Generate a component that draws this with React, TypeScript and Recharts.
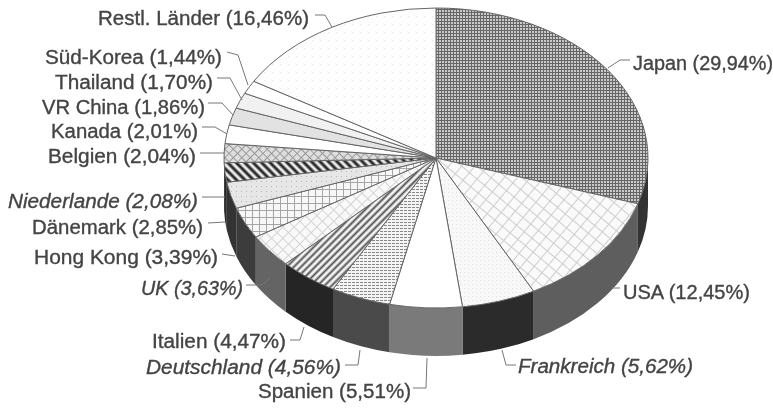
import React from "react";
import { PieChart, Pie } from "recharts";

const COUNTRIES = ["Japan", "USA", "Frankreich", "Spanien", "Deutschland", "Italien", "UK", "Hong Kong", "Dänemark", "Niederlande", "Belgien", "Kanada", "VR China", "Thailand", "Süd-Korea", "Restl. Länder"];
const SHARES = [29.94, 12.45, 5.62, 5.51, 4.56, 4.47, 3.63, 3.39, 2.85, 2.08, 2.04, 2.01, 1.86, 1.70, 1.44, 16.46];
const ITALIC = ["UK", "Niederlande", "Deutschland", "Frankreich"];

// top face fill and side wall colour, slice by slice
const TOP_FILLS = ["url(#grid)", "url(#cross)", "url(#dots)", "#fff", "url(#hlines)", "url(#diag)", "url(#lightcross)", "url(#lightgrid)", "url(#greydots)", "url(#bold)", "url(#greycross)", "#fff", "#e2e2e2", "#f1f1f1", "#fff", "url(#sparse)"];
const WALLS = ["#333", "#5e5e5e", "#2b2b2b", "#7a7a7a", "#4a4a4a", "#252525", "#646464", "#3c3c3c", "#333", "#2a2a2a", "#333", "#333", "#333", "#333", "#333", "#333"];

// label placement: text left, baseline, text width, then the leader line
const LABELS: { x: number; y: number; w: number; leader: string }[] = [
    { x: 633, y: 70, w: 140, leader: "630,60 620,60 608,68" },
    { x: 623, y: 299, w: 127, leader: "620,288 612,288" },
    { x: 518, y: 373, w: 175, leader: "516,365 506,365 502,350" },
    { x: 258, y: 398, w: 153, leader: "413,388 426,388 427,358" },
    { x: 146, y: 374, w: 195, leader: "345,365 358,365 360,350" },
    { x: 152, y: 348, w: 134, leader: "290,340 300,340 304,327" },
    { x: 141, y: 295, w: 102, leader: "246,285 262,285 270,278" },
    { x: 34, y: 264, w: 184, leader: "222,254 235,256" },
    { x: 32, y: 234, w: 171, leader: "208,223 225,222" },
    { x: 8, y: 208, w: 190, leader: "202,197 225,197" },
    { x: 48, y: 163, w: 148, leader: "200,153 225,153" },
    { x: 51, y: 138, w: 147, leader: "202,127 215,127 227,134" },
    { x: 42, y: 114, w: 163, leader: "208,103 222,103 233,115" },
    { x: 55, y: 89, w: 158, leader: "217,78 230,78 242,100" },
    { x: 45, y: 64, w: 177, leader: "227,52 238,55 248,85" },
    { x: 98, y: 25, w: 211, leader: "315,15 325,15 332,27" },
];

const data = COUNTRIES.map((name, i) => ({ name, value: SHARES[i] }));

const RX = 212;
const RY = 150;
const DEPTH = 48;
const EDGE = "#666";

const pt = (cx: number, cy: number, deg: number) => {
    const a = (deg * Math.PI) / 180;
    return [cx + RX * Math.cos(a), cy - RY * Math.sin(a)];
};

// tilted slice: the library gives the angles, we squash them into an ellipse
function TiltedSlice(props: any) {
    const { cx, cy, startAngle, endAngle, index } = props;
    const [x1, y1] = pt(cx, cy, startAngle);
    const [x2, y2] = pt(cx, cy, endAngle);
    const large = Math.abs(startAngle - endAngle) > 180 ? 1 : 0;
    const top = `M${cx},${cy} L${x1},${y1} A${RX},${RY} 0 ${large} 1 ${x2},${y2} Z`;

    // only the front half of the rim has a visible wall
    const s = Math.min(startAngle, 0);
    const e = Math.max(endAngle, -180);
    let wall = null;
    if (s > e) {
        const [wx1, wy1] = pt(cx, cy, s);
        const [wx2, wy2] = pt(cx, cy, e);
        wall = `M${wx1},${wy1} A${RX},${RY} 0 0 1 ${wx2},${wy2} L${wx2},${wy2 + DEPTH} A${RX},${RY} 0 0 0 ${wx1},${wy1 + DEPTH} Z`;
    }
    return (
        <g>
            {wall && <path d={wall} fill={WALLS[index]} stroke="none" />}
            <path d={top} fill={TOP_FILLS[index]} stroke={EDGE} strokeWidth={1} />
        </g>
    );
}

function SliceLabel(props: any) {
    const { index } = props;
    const l = LABELS[index];
    const name = COUNTRIES[index];
    const txt = `${name} (${SHARES[index].toFixed(2).replace(".", ",")}%)`;
    return (
        <g>
            <polyline points={l.leader} fill="none" stroke="#777" strokeWidth={1} />
            <text
                x={l.x}
                y={l.y}
                textLength={l.w}
                lengthAdjust="spacingAndGlyphs"
                fontSize={20}
                fontFamily="Liberation Sans, Arial, sans-serif"
                fontStyle={ITALIC.includes(name) ? "italic" : "normal"}
                fill="#444"
                stroke="#444"
                strokeWidth={0.35}
            >
                {txt}
            </text>
        </g>
    );
}

export default function App() {
    return (
        <div style={{ position: "absolute", left: 0, top: 0, width: 773, height: 408, background: "#fff", filter: "blur(0.45px)" }}>
            <PieChart width={773} height={408} margin={{ top: 0, right: 0, bottom: 0, left: 0 }}>
                <defs>
                    <pattern id="grid" width={3} height={3} patternUnits="userSpaceOnUse">
                        <rect width={3} height={3} fill="#cacaca" />
                        <path d="M0,0.5H3M0.5,0V3" stroke="#666" strokeWidth={1} />
                    </pattern>
                    <pattern id="cross" width={10} height={10} patternUnits="userSpaceOnUse" patternTransform="rotate(40)">
                        <rect width={10} height={10} fill="#fafafa" />
                        <path d="M0,0.5H10M0.5,0V10" stroke="#cdcdcd" strokeWidth={1} />
                    </pattern>
                    <pattern id="dots" width={4} height={4} patternUnits="userSpaceOnUse">
                        <rect width={4} height={4} fill="#f8f8f8" />
                        <rect width={1} height={1} fill="#e0e0e0" />
                    </pattern>
                    <pattern id="hlines" width={4} height={3} patternUnits="userSpaceOnUse">
                        <rect width={4} height={3} fill="#f4f4f4" />
                        <path d="M0,0.5H3" stroke="#888" strokeWidth={1} />
                    </pattern>
                    <pattern id="diag" width={5} height={5} patternUnits="userSpaceOnUse" patternTransform="rotate(-45)">
                        <rect width={5} height={5} fill="#f4f4f4" />
                        <path d="M0,1.5H5" stroke="#555" strokeWidth={2} />
                    </pattern>
                    <pattern id="lightcross" width={8} height={8} patternUnits="userSpaceOnUse" patternTransform="rotate(45)">
                        <rect width={8} height={8} fill="#f9f9f9" />
                        <path d="M0,0.5H8M0.5,0V8" stroke="#d4d4d4" strokeWidth={1} />
                    </pattern>
                    <pattern id="lightgrid" width={7} height={7} patternUnits="userSpaceOnUse">
                        <rect width={7} height={7} fill="#f7f7f7" />
                        <path d="M0,0.5H7M0.5,0V7" stroke="#a6a6a6" strokeWidth={1} />
                    </pattern>
                    <pattern id="greydots" width={5} height={5} patternUnits="userSpaceOnUse">
                        <rect width={5} height={5} fill="#e6e6e6" />
                        <rect x={1} y={1} width={1} height={1} fill="#b8b8b8" />
                    </pattern>
                    <pattern id="bold" width={6} height={6} patternUnits="userSpaceOnUse" patternTransform="rotate(45)">
                        <rect width={6} height={6} fill="#eee" />
                        <path d="M0,2H6" stroke="#2a2a2a" strokeWidth={3} />
                    </pattern>
                    <pattern id="greycross" width={6} height={6} patternUnits="userSpaceOnUse" patternTransform="rotate(45)">
                        <rect width={6} height={6} fill="#dedede" />
                        <path d="M0,0.5H6M0.5,0V6" stroke="#9a9a9a" strokeWidth={1} />
                    </pattern>
                    <pattern id="sparse" width={8} height={8} patternUnits="userSpaceOnUse">
                        <rect width={8} height={8} fill="#fdfdfd" />
                        <rect width={1} height={1} fill="#e4e4e4" />
                    </pattern>
                </defs>
                <Pie
                    data={data}
                    dataKey="value"
                    nameKey="name"
                    cx={436}
                    cy={158}
                    outerRadius={RX}
                    startAngle={90}
                    endAngle={-270}
                    stroke="none"
                    shape={TiltedSlice}
                    label={SliceLabel}
                    labelLine={false}
                    isAnimationActive={false}
                />
            </PieChart>
        </div>
    );
}
